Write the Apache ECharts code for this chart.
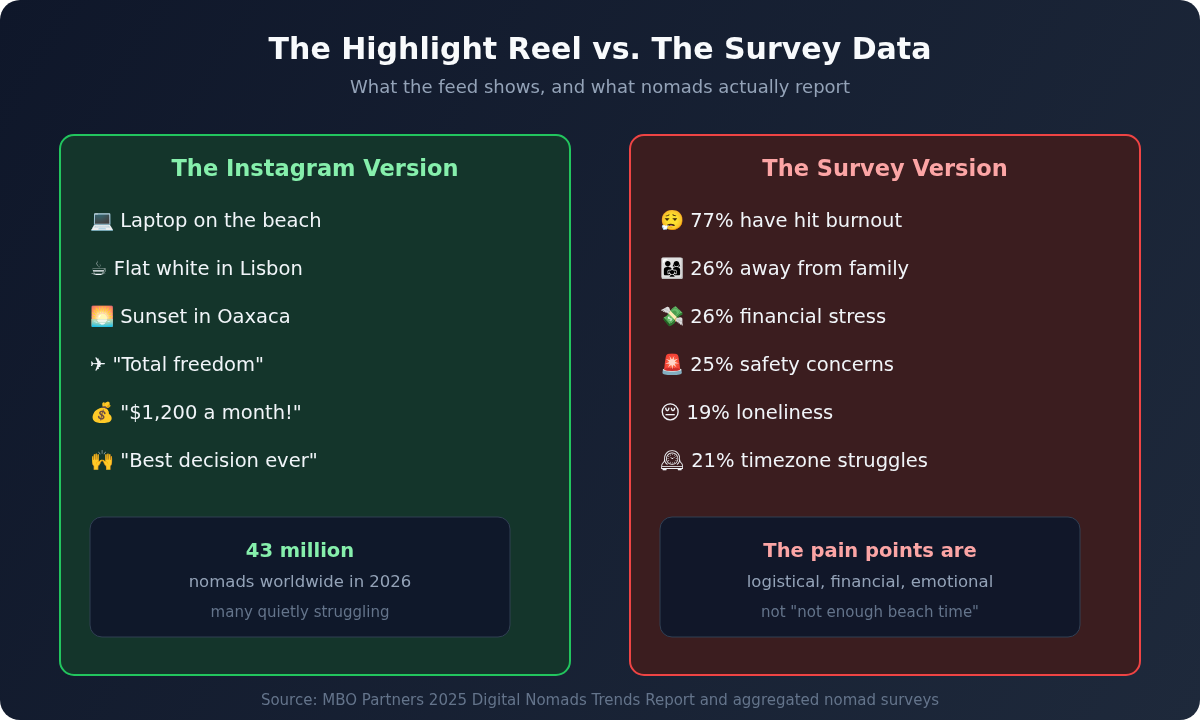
<!DOCTYPE html>
<html>
<head>
<meta charset="utf-8">
<title>The Highlight Reel vs. The Survey Data</title>
<script src="https://cdn.jsdelivr.net/npm/echarts@6/dist/echarts.min.js"></script>
<style>
  html, body { margin: 0; padding: 0; background: #ffffff; }
  #main { width: 1200px; height: 720px; }
</style>
</head>
<body>
<div id="main"></div>
<script>
// texts of the two cards
var leftTitle = 'The Instagram Version';
var leftItems = [
  '💻 Laptop on the beach',
  '☕ Flat white in Lisbon',
  '🌅 Sunset in Oaxaca',
  '✈ "Total freedom"',
  '💰 "$1,200 a month!"',
  '🙌 "Best decision ever"'
];
var leftBox = ['43 million', 'nomads worldwide in 2026', 'many quietly struggling'];

var rightTitle = 'The Survey Version';
var rightItems = [
  '😮‍💨 77% have hit burnout',
  '👨‍👩‍👧 26% away from family',
  '💸 26% financial stress',
  '🚨 25% safety concerns',
  '😔 19% loneliness',
  '🕰 21% timezone struggles'
];
var rightBox = ['The pain points are', 'logistical, financial, emotional', 'not "not enough beach time"'];

var FONT = '"DejaVu Sans", sans-serif';

// build one card (border box + title + list + summary box)
function card(x, fill, stroke, titleColor, title, items, box) {
  var els = [];
  els.push({
    type: 'rect',
    shape: { x: x, y: 135, width: 510, height: 540, r: 14 },
    style: { fill: fill, stroke: stroke, lineWidth: 2 }
  });
  els.push({
    type: 'text', x: x + 255, y: 170,
    style: { text: title, fill: titleColor, font: 'bold 22.5px ' + FONT, textAlign: 'center', textVerticalAlign: 'middle' }
  });
  for (var i = 0; i < items.length; i++) {
    els.push({
      type: 'text', x: x + 30, y: 222 + i * 48,
      style: { text: items[i], fill: '#f1f5f9', font: '19.5px ' + FONT, textAlign: 'left', textVerticalAlign: 'middle' }
    });
  }
  els.push({
    type: 'rect',
    shape: { x: x + 30, y: 517, width: 420, height: 120, r: 12 },
    style: { fill: '#0f172a', opacity: 0.95, stroke: '#334155', lineWidth: 1 }
  });
  els.push({
    type: 'text', x: x + 240, y: 552,
    style: { text: box[0], fill: titleColor, font: 'bold 19.5px ' + FONT, textAlign: 'center', textVerticalAlign: 'middle' }
  });
  els.push({
    type: 'text', x: x + 240, y: 583,
    style: { text: box[1], fill: '#94a3b8', font: '16.5px ' + FONT, textAlign: 'center', textVerticalAlign: 'middle' }
  });
  els.push({
    type: 'text', x: x + 240, y: 613,
    style: { text: box[2], fill: '#64748b', font: '15px ' + FONT, textAlign: 'center', textVerticalAlign: 'middle' }
  });
  return els;
}

var chart = echarts.init(document.getElementById('main'));

var elements = [
  {
    type: 'rect',
    shape: { x: 0, y: 0, width: 1200, height: 720, r: 20 },
    style: {
      fill: new echarts.graphic.LinearGradient(0, 0, 1, 1, [
        { offset: 0, color: '#0f172a' },
        { offset: 1, color: '#1e293b' }
      ])
    }
  },
  {
    type: 'text', x: 600, y: 51,
    style: { text: 'The Highlight Reel vs. The Survey Data', fill: '#f8fafc', font: 'bold 30px ' + FONT, textAlign: 'center', textVerticalAlign: 'middle' }
  },
  {
    type: 'text', x: 600, y: 88,
    style: { text: 'What the feed shows, and what nomads actually report', fill: '#94a3b8', font: '18px ' + FONT, textAlign: 'center', textVerticalAlign: 'middle' }
  },
  {
    type: 'text', x: 600, y: 701,
    style: { text: 'Source: MBO Partners 2025 Digital Nomads Trends Report and aggregated nomad surveys', fill: '#64748b', font: '15px ' + FONT, textAlign: 'center', textVerticalAlign: 'middle' }
  }
];

elements = elements
  .concat(card(60, '#14352b', '#22c55e', '#86efac', leftTitle, leftItems, leftBox))
  .concat(card(630, '#3b1d1f', '#ef4444', '#fca5a5', rightTitle, rightItems, rightBox));

chart.setOption({
  animation: false,
  graphic: { elements: elements }
});
</script>
</body>
</html>
